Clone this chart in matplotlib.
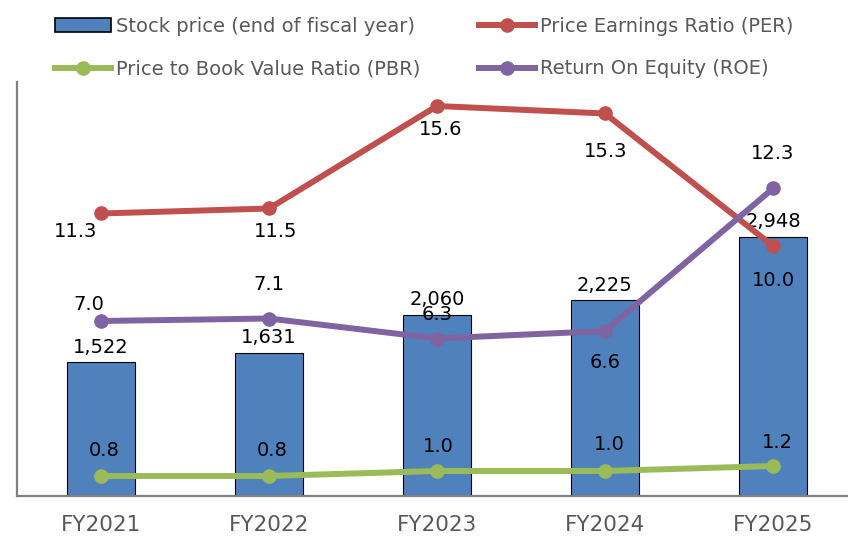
import numpy as np
import matplotlib
matplotlib.use('Agg')
import matplotlib.pyplot as plt
from matplotlib.patches import Patch
from matplotlib.lines import Line2D

# --- data ---
years = ['FY2021', 'FY2022', 'FY2023', 'FY2024', 'FY2025']
stock_price = [1522, 1631, 2060, 2225, 2948]
per = [11.3, 11.5, 15.6, 15.3, 10.0]
pbr = [0.8, 0.8, 1.0, 1.0, 1.2]
roe = [7.0, 7.1, 6.3, 6.6, 12.3]

# colours
C_BAR = '#4F81BD'
C_PER = '#C0504D'
C_PBR = '#9BBB59'
C_ROE = '#8064A2'
GREY = '#595959'

# label offsets in pixels (dx, dy) relative to each point
per_off = [(-25, -18), (7, -23), (4, -24), (1, -38), (0, -35)]
roe_off = [(-12, 17), (0, 34), (0, 24), (0, -31), (0, 35)]
pbr_off = [(3, 25), (3, 25), (1, 25), (4, 26), (4, 23)]

W, H = 848, 538
fig = plt.figure(figsize=(W / 100, H / 100), dpi=100)

# plot area in pixels: x 17..857 (runs past right edge), y 82..496
left, right, top, bottom = 17, 857, 82, 496
ax = fig.add_axes([left / W, (H - bottom) / H, (right - left) / W, (bottom - top) / H])
x = np.arange(len(years))

bars = ax.bar(x, stock_price, width=0.4, color=C_BAR, edgecolor='black', linewidth=0.8, zorder=2)
ax.set_xlim(-0.5, 4.5)
ax.set_ylim(0, (bottom - top) / 0.0879)
ax.set_yticks([])
ax.set_xticks(x)
ax.set_xticklabels(years, fontsize=15.5, color=GREY)
ax.tick_params(axis='x', length=0, pad=14)
for s in ['top', 'right']:
    ax.spines[s].set_visible(False)
for s in ['left', 'bottom']:
    ax.spines[s].set_color('#808080')
    ax.spines[s].set_linewidth(1.6)

for xi, v in zip(x, stock_price):
    ax.annotate(f'{v:,}', xy=(xi, v), xytext=(0, 15), textcoords='offset pixels',
                ha='center', va='center', fontsize=14, color='black', zorder=3)

# ratio lines share one hidden scale (25 px per unit)
ax2 = ax.twinx()
ax2.set_ylim(0, (bottom - top) / 25.0)
ax2.set_yticks([])
for s in ax2.spines.values():
    s.set_visible(False)

lw, ms = 4.3, 9.5
ax2.plot(x, per, color=C_PER, lw=lw, marker='o', ms=ms, solid_capstyle='round', zorder=4)
ax2.plot(x, pbr, color=C_PBR, lw=lw, marker='o', ms=ms, solid_capstyle='round', zorder=4)
ax2.plot(x, roe, color=C_ROE, lw=lw, marker='o', ms=ms, solid_capstyle='round', zorder=4)

for vals, offs in [(per, per_off), (roe, roe_off), (pbr, pbr_off)]:
    for xi, v, (dx, dy) in zip(x, vals, offs):
        ax2.annotate(f'{v:.1f}', xy=(xi, v), xytext=(dx, dy), textcoords='offset pixels',
                     ha='center', va='center', fontsize=14, color='black', zorder=5)

# legend
handles = [
    Patch(facecolor=C_BAR, edgecolor='black', linewidth=1.2),
    Line2D([], [], color=C_PBR, lw=lw, marker='o', ms=ms),
    Line2D([], [], color=C_PER, lw=lw, marker='o', ms=ms),
    Line2D([], [], color=C_ROE, lw=lw, marker='o', ms=ms),
]
labels = [
    'Stock price (end of fiscal year)',
    'Price to Book Value Ratio (PBR)',
    'Price Earnings Ratio (PER)',
    'Return On Equity (ROE)',
]
leg = fig.legend(handles, labels, ncol=2, loc='upper left',
                 bbox_to_anchor=(55 / W, 1 - 17 / H), frameon=False,
                 fontsize=14, handlelength=2.9, handleheight=0.7, handletextpad=0.25,
                 columnspacing=3.0, labelspacing=1.2, borderpad=0, borderaxespad=0)
for t in leg.get_texts():
    t.set_color(GREY)

fig.savefig('out.png', dpi=100)
